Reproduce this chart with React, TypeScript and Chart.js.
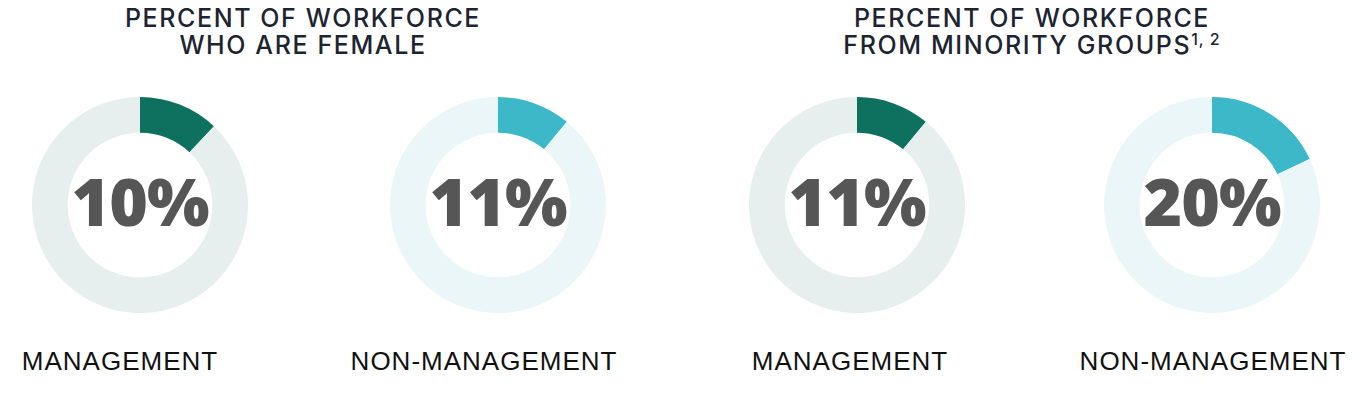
import React, { useEffect, useRef } from "react";
import { Chart, registerables } from "chart.js";

Chart.register(...registerables);

const groupTitles = [
  ["PERCENT OF WORKFORCE", "WHO ARE FEMALE"],
  ["PERCENT OF WORKFORCE", "FROM MINORITY GROUPS"],
];
const categories = ["MANAGEMENT", "NON-MANAGEMENT", "MANAGEMENT", "NON-MANAGEMENT"];
const percentLabels = ["10%", "11%", "11%", "20%"];
const filledShares = [12, 11, 11, 18];
const remainingShares = [88, 89, 89, 82];
const fillColors = ["#0e705f", "#3cb8c8", "#0e705f", "#3cb8c8"];
const trackColors = ["#e6efed", "#eaf6f8", "#e6efed", "#eaf6f8"];

const donutCenters = [140, 498, 857, 1212];
const labelCenters = [120, 484, 850, 1213];
const titleCenters = [303, 1032];
const CY = 205;
const R = 108;

function Donut({ index }: { index: number }) {
  const ref = useRef<HTMLCanvasElement | null>(null);
  useEffect(() => {
    if (!ref.current) return;
    const chart = new Chart(ref.current, {
      type: "doughnut",
      data: {
        labels: ["share", "rest"],
        datasets: [
          {
            data: [filledShares[index], remainingShares[index]],
            backgroundColor: [fillColors[index], trackColors[index]],
            borderWidth: 0,
            hoverOffset: 0,
          },
        ],
      },
      options: {
        responsive: false,
        animation: false,
        cutout: "67%",
        layout: { padding: 0 },
        plugins: { legend: { display: false }, tooltip: { enabled: false }, title: { display: false } },
        events: [],
      },
    });
    return () => chart.destroy();
  }, [index]);
  return (
    <canvas
      ref={ref}
      width={R * 2}
      height={R * 2}
      style={{ position: "absolute", left: donutCenters[index] - R, top: CY - R, width: R * 2, height: R * 2 }}
    />
  );
}

export default function App() {
  const titleStyle: React.CSSProperties = {
    position: "absolute",
    top: 5,
    width: 500,
    textAlign: "center",
    fontFamily: "Inter, 'Noto Sans', sans-serif",
    fontSize: 25,
    lineHeight: "27px",
    letterSpacing: "1.6px",
    color: "#1b2430",
    fontWeight: 500,
    whiteSpace: "nowrap",
  };
  return (
    <div
      style={{
        position: "absolute",
        left: 0,
        top: 0,
        width: 1359,
        height: 403,
        background: "#ffffff",
        overflow: "hidden",
      }}
    >
      {groupTitles.map((lines, g) => (
        <div key={"t" + g} style={{ ...titleStyle, left: titleCenters[g] - 250 }}>
          <div>{lines[0]}</div>
          <div>
            {lines[1]}
            {g === 1 ? (
              <sup style={{ fontSize: 16, letterSpacing: "1px", verticalAlign: "top", position: "relative", top: -6 }}>1, 2</sup>
            ) : null}
          </div>
        </div>
      ))}
      {categories.map((c, i) => (
        <React.Fragment key={"d" + i}>
          <Donut index={i} />
          <div
            style={{
              position: "absolute",
              left: donutCenters[i] - 100,
              top: CY - 41,
              width: 200,
              textAlign: "center",
              fontFamily: "'Open Sans', Roboto, sans-serif",
              fontWeight: 800,
              fontSize: 66,
              lineHeight: "72px",
              letterSpacing: "-1px",
              color: "#565656",
            }}
          >
            {percentLabels[i]}
          </div>
          <div
            style={{
              position: "absolute",
              left: labelCenters[i] - 200,
              top: 345,
              width: 400,
              textAlign: "center",
              fontFamily: "'Liberation Sans', Arial, sans-serif",
              fontSize: 26,
              lineHeight: "32px",
              letterSpacing: "1px",
              color: "#111111",
              whiteSpace: "nowrap",
            }}
          >
            {c}
          </div>
        </React.Fragment>
      ))}
    </div>
  );
}
